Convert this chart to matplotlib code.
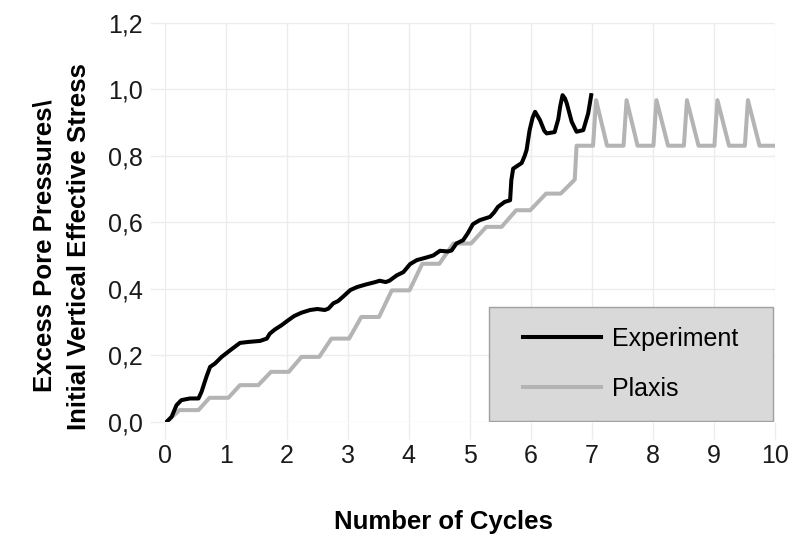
import matplotlib
matplotlib.use("Agg")
import matplotlib.pyplot as plt
from matplotlib.patches import Rectangle

plt.rcParams['font.family'] = ['Liberation Sans', 'DejaVu Sans']

# Measured excess pore pressure ratio (shaking table test)
experiment_cycles = [0.03, 0.11, 0.19, 0.27, 0.41, 0.55, 0.60, 0.68, 0.74, 0.82,
                     0.93, 1.07, 1.23, 1.37, 1.56, 1.67, 1.72, 1.80, 1.91, 2.02,
                     2.12, 2.24, 2.38, 2.50, 2.62, 2.68, 2.76, 2.84, 2.92, 3.04,
                     3.15, 3.30, 3.45, 3.52, 3.62, 3.68, 3.80, 3.91, 4.02, 4.13,
                     4.29, 4.40, 4.51, 4.64, 4.70, 4.78, 4.89, 4.97, 5.05, 5.16,
                     5.33, 5.40, 5.46, 5.57, 5.66, 5.68, 5.71, 5.80, 5.85, 5.90,
                     5.93, 5.98, 6.03, 6.07, 6.15, 6.22, 6.26, 6.39, 6.45, 6.48,
                     6.52, 6.56, 6.59, 6.67, 6.75, 6.86, 6.94, 6.99]
experiment_ratio = [0.0, 0.015, 0.05, 0.065, 0.07, 0.07, 0.09, 0.135, 0.165, 0.175,
                    0.195, 0.215, 0.237, 0.24, 0.243, 0.25, 0.265, 0.277, 0.29, 0.305,
                    0.318, 0.328, 0.336, 0.339, 0.336, 0.34, 0.356, 0.363, 0.376, 0.396,
                    0.405, 0.413, 0.42, 0.424, 0.42, 0.424, 0.44, 0.45, 0.474, 0.486,
                    0.494, 0.50, 0.514, 0.512, 0.515, 0.536, 0.546, 0.568, 0.594, 0.606,
                    0.616, 0.63, 0.646, 0.661, 0.666, 0.726, 0.761, 0.772, 0.778, 0.80,
                    0.817, 0.877, 0.915, 0.932, 0.907, 0.875, 0.867, 0.871, 0.91, 0.947,
                    0.982, 0.972, 0.957, 0.902, 0.872, 0.877, 0.927, 0.982]

# Plaxis (UBC3D-PLM) prediction
plaxis_cycles = [0.03, 0.24, 0.55, 0.73, 1.04, 1.23, 1.53, 1.74, 2.03, 2.24,
                 2.53, 2.73, 3.02, 3.22, 3.51, 3.72, 4.01, 4.22, 4.50, 4.73,
                 5.02, 5.27, 5.52, 5.76, 5.99, 6.25, 6.49, 6.72, 6.75, 7.02,
                 7.07, 7.25, 7.52, 7.57, 7.75, 8.01, 8.06, 8.25, 8.51, 8.56,
                 8.75, 9.01, 9.06, 9.25, 9.51, 9.56, 9.75, 10.0]
plaxis_ratio = [0.0, 0.035, 0.035, 0.072, 0.072, 0.11, 0.11, 0.15, 0.15, 0.195,
                0.195, 0.25, 0.25, 0.315, 0.315, 0.395, 0.395, 0.475, 0.475, 0.536,
                0.536, 0.586, 0.586, 0.636, 0.636, 0.686, 0.686, 0.728, 0.83, 0.83,
                0.967, 0.83, 0.83, 0.967, 0.83, 0.83, 0.967, 0.83, 0.83, 0.967,
                0.83, 0.83, 0.967, 0.83, 0.83, 0.967, 0.83, 0.83]

x_ticks = [0, 1, 2, 3, 4, 5, 6, 7, 8, 9, 10]
y_ticks = [0.0, 0.2, 0.4, 0.6, 0.8, 1.0, 1.2]
y_tick_labels = ['0,0', '0,2', '0,4', '0,6', '0,8', '1,0', '1,2']

fig = plt.figure(figsize=(7.93, 5.4), dpi=100)
ax = fig.add_axes([0.208, 0.219, 0.769, 0.739])

ax.plot(plaxis_cycles, plaxis_ratio, color='#b4b4b4', lw=2.9,
        solid_joinstyle='round', label='Plaxis', zorder=2)
ax.plot(experiment_cycles, experiment_ratio, color='black', lw=2.9,
        solid_joinstyle='round', label='Experiment', zorder=3)

ax.set_xlim(0, 10)
ax.set_ylim(0, 1.2)
ax.set_xticks(x_ticks)
ax.set_yticks(y_ticks)
ax.set_yticklabels(y_tick_labels)
ax.grid(True, color='#ececec', lw=1.0, zorder=0)
for s in ax.spines.values():
    s.set_visible(False)
ax.tick_params(axis='both', colors='#ececec', labelcolor='#1a1a1a', labelsize=18)
ax.tick_params(axis='y', length=11, width=1.0, pad=5)
ax.tick_params(axis='x', length=12, width=1.0, pad=4)

ax.set_xlabel('Number of Cycles', fontsize=18.5, fontweight='bold')
ax.xaxis.set_label_coords(0.457, -0.222)
ax.set_ylabel('Excess Pore Pressures\\\nInitial Vertical Effective Stress',
              fontsize=18.5, fontweight='bold', linespacing=1.55)
ax.yaxis.set_label_coords(-0.122, 0.44)

# grey legend box in the lower right corner
box = Rectangle((0.531, 0.002), 0.466, 0.285, transform=ax.transAxes,
                facecolor='#d9d9d9', edgecolor='#a0a0a0', lw=1.0, zorder=4)
ax.add_patch(box)
handles, labels = ax.get_legend_handles_labels()
leg = ax.legend(handles[::-1], labels[::-1], loc='center',
                bbox_to_anchor=(0.531 + 0.233, 0.002 + 0.1425),
                frameon=False, fontsize=18, handlelength=3.1,
                handletextpad=0.45, labelspacing=1.05)
leg.set_zorder(5)

fig.savefig('out.png', dpi=100)
